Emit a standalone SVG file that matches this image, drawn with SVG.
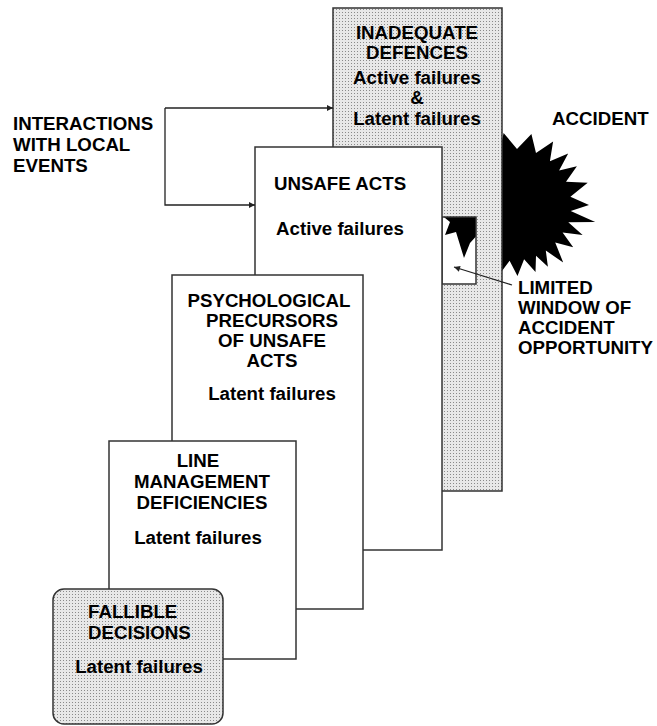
<svg xmlns="http://www.w3.org/2000/svg" width="657" height="726" viewBox="0 0 657 726">
<style>
.t{font-family:"Liberation Sans",Arial,sans-serif;font-weight:bold;font-size:18.7px;fill:#000}
.m{text-anchor:middle}
.box{fill:#fff;stroke:#333;stroke-width:1.5}
.gray{fill:url(#dots);stroke:#333;stroke-width:1.5}
.con{fill:none;stroke:#222;stroke-width:1.3}
</style>
<defs>
<pattern id="dots" width="3" height="3" patternUnits="userSpaceOnUse">
<rect width="3" height="3" fill="#e8e8e8"/>
<rect width="1" height="1" fill="#8a8a8a"/>
</pattern>
<marker id="ah" viewBox="0 0 10 10" refX="10" refY="5" markerWidth="8" markerHeight="6" markerUnits="userSpaceOnUse" orient="auto">
<path d="M0,0 L10,5 L0,10 z" fill="#222"/>
</marker>
</defs>

<g id="accident-star">
<path fill="#000" d="M503.6,132.9 L517,149 L531.4,133.9 L536,153.1 L553.1,141.6 L549.9,161.2 L568.2,153.6 L559.1,170.5 L576.9,166.3 L566,181.8 L587.7,182.8 L570.4,196.7 L589,205 L570.7,210.9 L595.2,222 L568.3,222.3 L582.6,235.1 L562.6,232.5 L573.2,247.3 L555.2,242.5 L563.2,262.5 L545.8,250.6 L547.9,266.8 L536,255.8 L535.5,271.9 L524.1,259.2 L517.5,276 L509.6,260.7 L498.8,275.2 L494,258 L488,270 L480,232 L470,243 L464,258 L456,232 L445,235 L450,222 L441.7,215.3 L457,204.5 L443.5,196.2 L460.8,191 L448.2,178 L466.3,177.4 L457.5,161.7 L475.1,165.7 L470.7,148.3 L486.6,156.8 L486.9,138.7 L499.6,151.2 Z"/>
</g>

<g id="inadequate-defences">
<path class="gray" fill-rule="evenodd" d="M333,8 H502 V491 H333 Z M442,217 H476 V284 H442 Z"/>
<text class="t m" x="417" y="39">INADEQUATE</text>
<text class="t m" x="417" y="59">DEFENCES</text>
<text class="t m" x="417" y="84">Active failures</text>
<text class="t m" x="417" y="104">&amp;</text>
<text class="t m" x="417" y="125">Latent failures</text>
</g>

<g id="unsafe-acts">
<rect class="box" x="255" y="147" width="187" height="403"/>
<text class="t m" x="340" y="190">UNSAFE ACTS</text>
<text class="t m" x="340" y="235">Active failures</text>
</g>

<g id="psychological-precursors">
<rect class="box" x="172" y="275" width="191" height="334"/>
<text class="t m" x="269" y="307">PSYCHOLOGICAL</text>
<text class="t m" x="272" y="327">PRECURSORS</text>
<text class="t m" x="272" y="347">OF UNSAFE</text>
<text class="t m" x="272" y="367">ACTS</text>
<text class="t m" x="272" y="400">Latent failures</text>
</g>

<g id="line-management">
<rect class="box" x="109" y="441" width="187" height="218"/>
<text class="t m" x="198" y="467">LINE</text>
<text class="t m" x="202" y="488">MANAGEMENT</text>
<text class="t m" x="202" y="509">DEFICIENCIES</text>
<text class="t m" x="198" y="544">Latent failures</text>
</g>

<g id="fallible-decisions">
<rect class="gray" x="53" y="589" width="170" height="135" rx="11" ry="11"/>
<text class="t" x="88" y="618">FALLIBLE</text>
<text class="t" x="88" y="639">DECISIONS</text>
<text class="t m" x="139" y="673">Latent failures</text>
</g>

<g id="labels">
<text class="t" x="552" y="125">ACCIDENT</text>
<text class="t" x="13" y="130">INTERACTIONS</text>
<text class="t" x="13" y="151">WITH LOCAL</text>
<text class="t" x="13" y="172">EVENTS</text>
<text class="t" x="518" y="294">LIMITED</text>
<text class="t" x="518" y="314">WINDOW OF</text>
<text class="t" x="518" y="334">ACCIDENT</text>
<text class="t" x="518" y="354">OPPORTUNITY</text>
</g>

<g id="connectors">
<path class="con" d="M165,108 H333" marker-end="url(#ah)"/>
<path class="con" d="M165,108 V205 H255" marker-end="url(#ah)"/>
<path class="con" d="M512,285 L454,267" marker-end="url(#ah)"/>
</g>
</svg>
